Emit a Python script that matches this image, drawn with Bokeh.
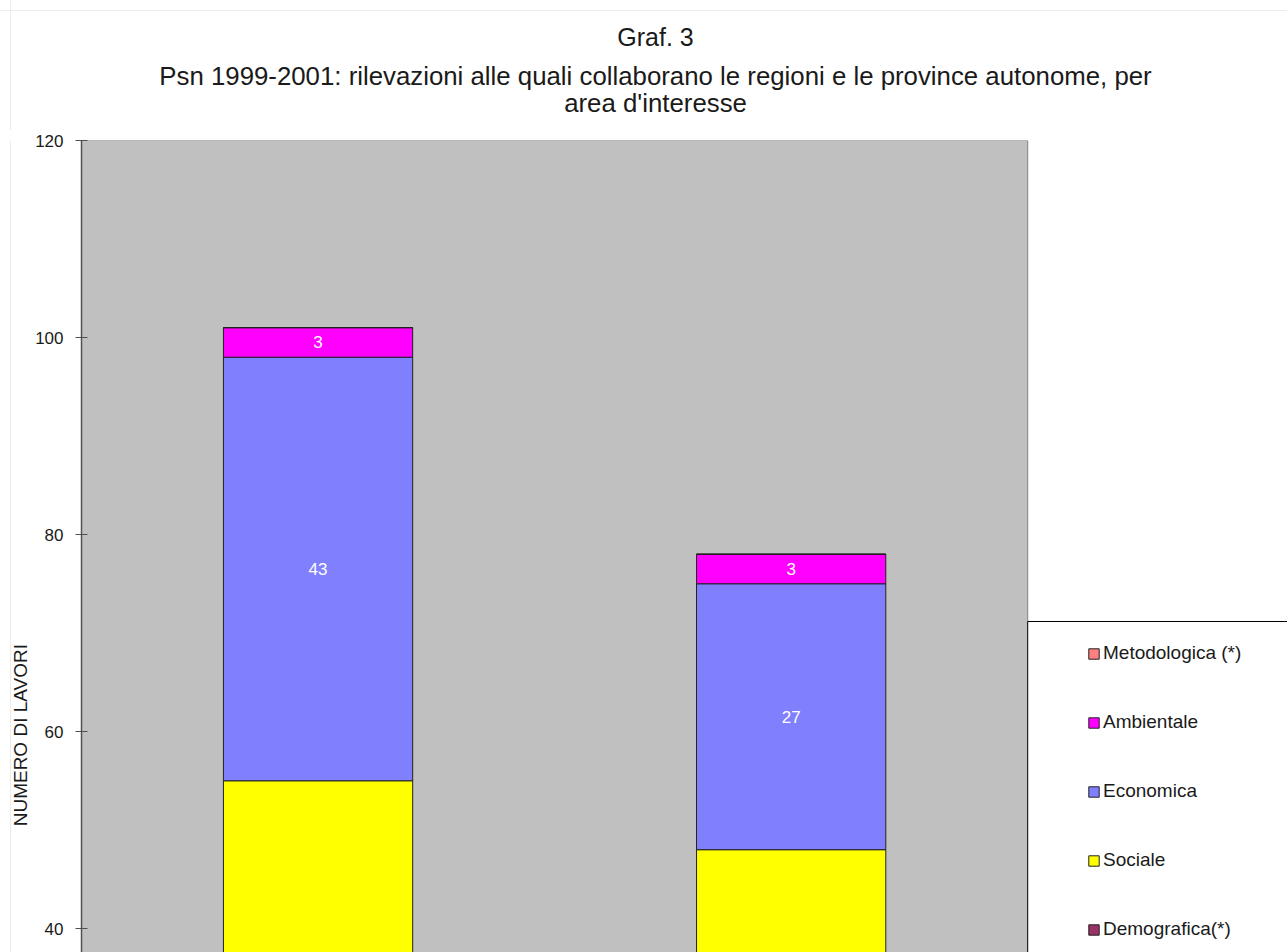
import math
from bokeh.plotting import figure
from bokeh.layouts import column, row
from bokeh.models import (Range1d, FixedTicker, Legend, LegendItem, LabelSet,
                          ColumnDataSource, Label, Span)
from bokeh.core.properties import value
from bokeh.embed import file_html
from bokeh.resources import INLINE

# ---------------- data ----------------
categories = ["Regioni", "Province autonome"]
demografica = [9, 7]
sociale = [46, 41]
economica = [43, 27]
ambientale = [3, 3]
metodologica = [0, 0]
series_keys = ["demografica", "sociale", "economica", "ambientale", "metodologica"]
series_names = ["Demografica(*)", "Sociale", "Economica", "Ambientale", "Metodologica (*)"]
series_colors = ["#993366", "#FFFF00", "#8080FF", "#FF00FF", "#FF8080"]
y_ticks = [40, 60, 80, 100, 120]
title_main = "Graf. 3"
title_sub1 = "Psn 1999-2001: rilevazioni alle quali collaborano le regioni e le province autonome, per"
title_sub2 = "area d'interesse"
y_label = "NUMERO DI LAVORI"

# ---------------- layout ----------------
FONT = "Liberation Sans"
W, H = 1287, 952
FRAME_TOP = 140        # page y of the value 120
TITLE_H = 130          # height of the title band
MAIN_PAD_TOP = FRAME_TOP - TITLE_H
LABEL_W = 32           # width of the strip holding the y-axis title
AXIS_W = 48            # room for ticks / tick labels
PX_PER_CAT = 473.5
PX_PER_UNIT = 9.85
Y_TOP = 120
MAIN_W = W - LABEL_W
MAIN_H = H - TITLE_H
y_bottom = Y_TOP - (H - FRAME_TOP) / PX_PER_UNIT
x_max = (MAIN_W - AXIS_W) / PX_PER_CAT
LEGEND_TOP_PX = 481  # from frame top
EDGE = "#ececec"


def blank(width, height):
    f = figure(width=width, height=height, output_backend="svg", toolbar_location=None,
               tools="", x_range=Range1d(0, width), y_range=Range1d(0, height),
               min_border=0)
    f.axis.visible = False
    f.grid.visible = False
    f.outline_line_color = None
    f.background_fill_color = "white"
    f.border_fill_color = "white"
    return f


# ---- title band ----
tf = blank(W, TITLE_H)
tf.add_layout(Span(location=10, dimension="height", line_color=EDGE, line_width=1))
tf.add_layout(Span(location=TITLE_H - 10, dimension="width", line_color=EDGE, line_width=1))
for txt, py, size in [(title_main, 36, "25px"),
                      (title_sub1, 75, "25.8px"),
                      (title_sub2, 102, "25.8px")]:
    tf.add_layout(Label(x=655, y=TITLE_H - py, text=txt, text_align="center",
                        text_baseline="middle", text_font=FONT, text_font_size=size,
                        text_color="#1a1a1a"))

# ---- y-axis title strip ----
lf = blank(LABEL_W, MAIN_H)
lf.add_layout(Span(location=10, dimension="height", line_color=EDGE, line_width=1))
lf.add_layout(Label(x=20, y=H - 732, text=y_label, angle=math.pi / 2,
                    text_align="center", text_baseline="middle",
                    text_font=FONT, text_font_size="19px", text_color="#1a1a1a"))

# ---- main chart ----
n = len(categories)
xs = [i + 0.5 for i in range(n)]
data = dict(x=xs, demografica=demografica, sociale=sociale, economica=economica,
            ambientale=ambientale, metodologica=metodologica)
src = ColumnDataSource(data)

p = figure(width=MAIN_W, height=MAIN_H, output_backend="svg", toolbar_location=None, tools="",
           x_range=Range1d(0, x_max), y_range=Range1d(y_bottom, Y_TOP),
           min_border_left=AXIS_W, min_border_right=0, min_border_bottom=0,
           min_border_top=MAIN_PAD_TOP)
p.background_fill_color = "white"
p.border_fill_color = "white"
p.outline_line_color = None
p.grid.visible = False
p.xaxis.visible = False

# plot area (grey) and legend box
p.quad(left=0, right=n, bottom=y_bottom - 5, top=Y_TOP,
       fill_color="#C0C0C0", line_color="#808080", line_width=1)
legend_top = Y_TOP - LEGEND_TOP_PX / PX_PER_UNIT
p.quad(left=n, right=x_max + 1, bottom=y_bottom - 5, top=legend_top,
       fill_color="white", line_color="#000000", line_width=1)

renderers = p.vbar_stack(series_keys, x="x", width=0.4, source=src,
                         fill_color=series_colors, line_color="#202020", line_width=1)

# value labels (only those inside the visible value range)
lx, ly, lt = [], [], []
for i in range(n):
    base = 0
    for k in series_keys:
        v = data[k][i]
        mid = base + v / 2
        if v > 0 and mid > y_bottom + 1:
            lx.append(xs[i]); ly.append(mid); lt.append(str(v))
        base += v
labels = LabelSet(x="x", y="y", text="t", source=ColumnDataSource(dict(x=lx, y=ly, t=lt)),
                  text_color="white", text_font=value(FONT), text_font_size="17px",
                  text_align="center", text_baseline="middle")
p.add_layout(labels)

# y axis
ax = p.yaxis[0]
ax.ticker = FixedTicker(ticks=y_ticks)
ax.minor_tick_line_color = None
ax.major_tick_in = 6
ax.major_tick_out = 6
ax.axis_line_color = "#505050"
ax.axis_line_width = 1.5
ax.major_tick_line_color = "#505050"
ax.major_label_text_font = FONT
ax.major_label_text_font_size = "17px"
ax.major_label_text_color = "#1a1a1a"
ax.major_label_standoff = 12

# legend
items = [LegendItem(label=nm, renderers=[r]) for nm, r in zip(series_names, renderers)]
items = items[::-1]
legend = Legend(items=items, location=(1006, 12), padding=0, margin=0,
                glyph_width=13, glyph_height=13, label_standoff=3,
                label_text_font=FONT, label_text_font_size="19px", label_height=20,
                label_text_color="#1a1a1a",
                spacing=47, border_line_alpha=0, background_fill_alpha=0)
p.add_layout(legend)

layout = column(tf, row(lf, p, spacing=0), spacing=0)
open("out.html", "w").write(file_html(layout, INLINE))
